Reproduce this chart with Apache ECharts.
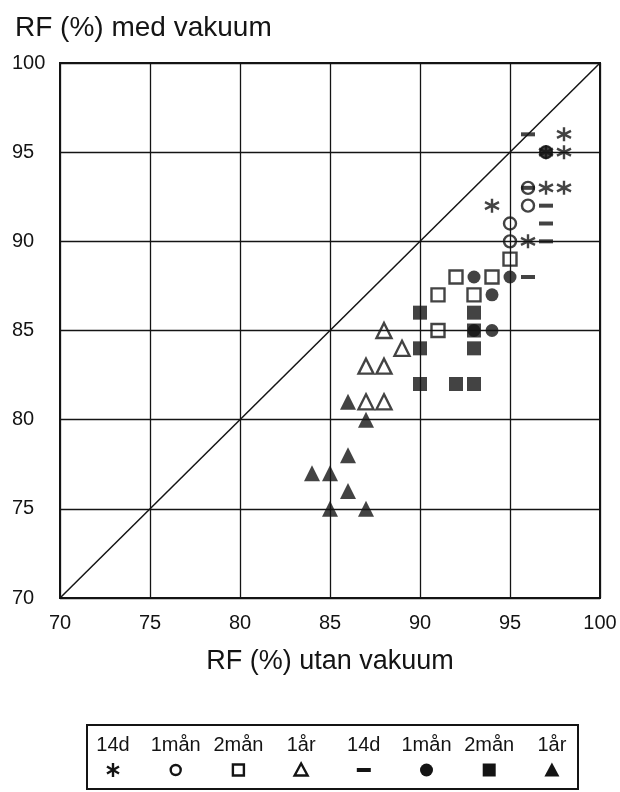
<!DOCTYPE html>
<html><head><meta charset="utf-8">
<script src="https://cdn.jsdelivr.net/npm/echarts@6/dist/echarts.min.js"></script>
<style>html,body{margin:0;padding:0;background:#fff}#c{width:620px;height:792px}</style>
</head><body><div id="c"></div>
<script>
// RF (%) utan vakuum (x) vs RF (%) med vakuum (y)
const ticks = [70, 75, 80, 85, 90, 95, 100];
const legendLabels = ['14d', '1mån', '2mån', '1år', '14d', '1mån', '2mån', '1år'];
// open symbols
const star14d  = [[98,96],[97,95],[98,95],[97,93],[98,93],[94,92],[96,90]];
const open1man = [[97,95],[96,93],[96,92],[95,91],[95,90]];
const open2man = [[95,89],[92,88],[94,88],[91,87],[93,87],[91,85]];
const open1ar  = [[88,85],[89,84],[87,83],[88,83],[87,81],[88,81]];
// filled symbols
const dash14d  = [[96,96],[96,93],[97,92],[97,91],[97,90],[96,88]];
const fill1man = [[97,95],[93,88],[95,88],[94,87],[93,85],[94,85]];
const fill2man = [[90,86],[93,86],[93,85],[90,84],[93,84],[90,82],[92,82],[93,82]];
const fill1ar  = [[86,81],[87,80],[86,78],[84,77],[85,77],[86,76],[85,75],[87,75]];
const diagonal = [[70,70],[100,100]];

const INK = '#141414';
const FONT = '"Liberation Sans", Arial, sans-serif';
const STAR = 'path://M0,-10L0,10M-8.66,-5L8.66,5M-8.66,5L8.66,-5';

const chart = echarts.init(document.getElementById('c'), null, {renderer: 'canvas'});

function openS(name, data, symbol, size) {
  return {name, type: 'scatter', data, symbol, symbolSize: size, z: 3,
    itemStyle: {color: 'rgba(0,0,0,0)', borderColor: INK, borderWidth: 2.4}};
}
function fillS(name, data, symbol, size) {
  return {name, type: 'scatter', data, symbol, symbolSize: size, z: 4,
    itemStyle: {color: INK, borderWidth: 0}};
}

// legend drawn as graphic
const lx0 = 113, ldx = 62.7, lyText = 745, lySym = 770;
const legendG = [{type: 'rect', shape: {x: 87, y: 725, width: 491, height: 64},
  style: {fill: 'none', stroke: INK, lineWidth: 2}}];
legendLabels.forEach((t, i) => {
  legendG.push({type: 'text', x: lx0 + i * ldx, y: lyText,
    style: {text: t, font: '20px ' + FONT, fill: INK, align: 'center', verticalAlign: 'middle'}});
});
const sx = i => lx0 + i * ldx;
const openStyle = {fill: 'none', stroke: INK, lineWidth: 2.4};
const fillStyle = {fill: INK};
// 14d star
[[0,-7,0,7],[-6,-3.5,6,3.5],[-6,3.5,6,-3.5]].forEach(l => legendG.push({type: 'line',
  shape: {x1: sx(0)+l[0], y1: lySym+l[1], x2: sx(0)+l[2], y2: lySym+l[3]}, style: {stroke: INK, lineWidth: 2.4}}));
legendG.push({type: 'circle', shape: {cx: sx(1), cy: lySym, r: 5}, style: openStyle});
legendG.push({type: 'rect', shape: {x: sx(2)-5.5, y: lySym-5.5, width: 11, height: 11}, style: openStyle});
legendG.push({type: 'polygon', shape: {points: [[sx(3), lySym-6.5],[sx(3)-6.5, lySym+5.5],[sx(3)+6.5, lySym+5.5]]}, style: openStyle});
legendG.push({type: 'rect', shape: {x: sx(4)-7, y: lySym-2, width: 14, height: 4}, style: fillStyle});
legendG.push({type: 'circle', shape: {cx: sx(5), cy: lySym, r: 6.5}, style: fillStyle});
legendG.push({type: 'rect', shape: {x: sx(6)-6.5, y: lySym-6.5, width: 13, height: 13}, style: fillStyle});
legendG.push({type: 'polygon', shape: {points: [[sx(7), lySym-7.5],[sx(7)-7.5, lySym+6.5],[sx(7)+7.5, lySym+6.5]]}, style: fillStyle});

chart.setOption({
  backgroundColor: '#fff',
  animation: false,
  title: {text: 'RF (%) med vakuum', left: 10, top: 9,
    textStyle: {fontFamily: FONT, fontSize: 28, fontWeight: 'normal', color: INK}},
  grid: {left: 60, right: 20, top: 63, bottom: 194, show: true, borderColor: INK, borderWidth: 2, containLabel: false},
  xAxis: {type: 'value', min: ticks[0], max: ticks[ticks.length-1], interval: 5,
    name: 'RF (%) utan vakuum', nameLocation: 'middle', nameGap: 50,
    nameTextStyle: {fontFamily: FONT, fontSize: 27, color: INK},
    axisLine: {show: false}, axisTick: {show: false},
    axisLabel: {fontFamily: FONT, fontSize: 20, color: INK, margin: 15},
    splitLine: {show: true, lineStyle: {color: INK, width: 1.3}}},
  yAxis: {type: 'value', min: ticks[0], max: ticks[ticks.length-1], interval: 5,
    axisLine: {show: false}, axisTick: {show: false},
    axisLabel: {fontFamily: FONT, fontSize: 20, color: INK, margin: 48, align: 'left'},
    splitLine: {show: true, lineStyle: {color: INK, width: 1.3}}},
  graphic: legendG,
  series: [
    {name: 'diag', type: 'line', data: diagonal, symbol: 'none', silent: true, z: 2,
      lineStyle: {color: INK, width: 1.5}},
    {name: '14d', type: 'scatter', data: star14d, symbol: STAR, symbolSize: 14, z: 3,
      itemStyle: {color: 'rgba(0,0,0,0)', borderColor: INK, borderWidth: 2.4}},
    openS('1mån', open1man, 'circle', 12),
    openS('2mån', open2man, 'rect', 13),
    openS('1år', open1ar, 'triangle', 15),
    fillS('14d vak', dash14d, 'rect', [14, 4]),
    fillS('1mån vak', fill1man, 'circle', 13),
    fillS('2mån vak', fill2man, 'rect', 14),
    fillS('1år vak', fill1ar, 'triangle', 16)
  ]
});
</script></body></html>
